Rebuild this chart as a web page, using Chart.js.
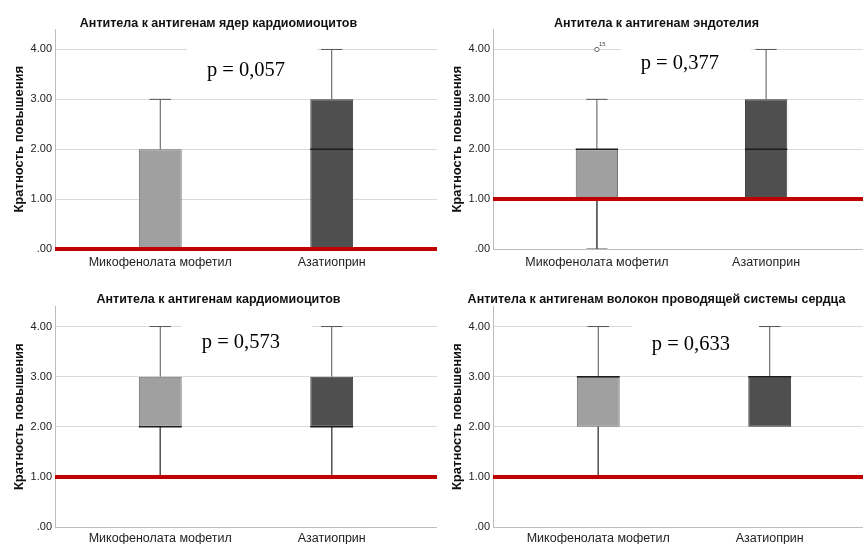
<!DOCTYPE html>
<html lang="ru">
<head>
<meta charset="UTF-8">
<title>Кратность повышения антител</title>
<style>
  html, body { margin: 0; padding: 0; background: #fff; overflow: hidden; }
  #board { position: relative; width: 863px; height: 544px; overflow: hidden; background: #fff; }
  .panel { position: absolute; }
</style>
</head>
<body>
<div id="board">
  <div class="panel" style="left:0;top:0"><canvas id="c0" width="437" height="272"></canvas></div>
  <div class="panel" style="left:438px;top:0"><canvas id="c1" width="437" height="272"></canvas></div>
  <div class="panel" style="left:0;top:280px"><canvas id="c2" width="437" height="264"></canvas></div>
  <div class="panel" style="left:438px;top:280px"><canvas id="c3" width="437" height="264"></canvas></div>
</div>

<script src="https://cdn.jsdelivr.net/npm/chart.js"></script>
<script>
    // данные
    const categories = ['Микофенолата мофетил', 'Азатиоприн'];
    const panelTitles = [
        'Антитела к антигенам ядер кардиомиоцитов',
        'Антитела к антигенам эндотелия',
        'Антитела к антигенам кардиомиоцитов',
        'Антитела к антигенам волокон проводящей системы сердца'
    ];
    const pValues = ['p = 0,057', 'p = 0,377', 'p = 0,573', 'p = 0,633'];
    const refLevels = [0, 1, 1, 1];
    const yTicks = [0, 1, 2, 3, 4];
    // по панелям: [Микофенолата мофетил, Азатиоприн]
    const whiskerLow  = [[0, 0], [0, 1], [1, 1], [1, 2]];
    const quartile1   = [[0, 0], [1, 1], [2, 2], [2, 2]];
    const medians     = [[0, 2], [2, 2], [2, 2], [3, 3]];
    const quartile3   = [[2, 3], [2, 3], [3, 3], [3, 3]];
    const whiskerHigh = [[3, 4], [3, 4], [4, 4], [4, 4]];
    const outlierValues = [[[], []], [[4], []], [[], []], [[], []]];
    const outlierCases  = [[[], []], [['15'], []], [[], []], [[], []]];

    // оформление
    const X_MIN = 0.386, X_MAX = 2.614, Y_MAX = 4.4;
    const BAR_FRAC = 0.25;            // ширина ящика в долях категории
    const HALF = BAR_FRAC / 2;        // полуширина ящика
    const CAP = HALF / 2;             // полуширина усов
    const boxFill = ['#a0a0a0', '#4f4f4f'];
    const boxBorder = ['#6c6c6c', '#3a3a3a'];
    const pPos = [[1.5, 3.58], [1.49, 3.72], [1.47, 3.68], [1.54, 3.64]];
    const isTop = [true, true, false, false];

    Chart.defaults.font.family = "'Liberation Sans', Arial, sans-serif";
    Chart.defaults.color = '#222';

    // подпись p с белой подложкой
    const pValuePlugin = {
        id: 'pValue',
        beforeDatasetsDraw(chart, args, opts) {
            const {ctx, scales: {x, y}} = chart;
            const cx = x.getPixelForValue(opts.x), cy = y.getPixelForValue(opts.y);
            ctx.save();
            ctx.font = '20.5px "Liberation Serif", "Times New Roman", serif';
            const w = ctx.measureText(opts.text).width;
            ctx.fillStyle = '#fff';
            ctx.fillRect(cx - w / 2 - 20, cy - 26, w + 52, 46);
            ctx.fillStyle = '#000';
            ctx.textAlign = 'center';
            ctx.textBaseline = 'middle';
            ctx.fillText(opts.text, cx, cy);
            ctx.restore();
        }
    };

    // номера выбросов
    const caseLabelPlugin = {
        id: 'caseLabels',
        afterDatasetsDraw(chart) {
            const ctx = chart.ctx;
            chart.data.datasets.forEach((ds, i) => {
                if (!ds.caseLabels) return;
                ctx.save();
                ctx.font = '6px "Liberation Sans", Arial, sans-serif';
                ctx.fillStyle = '#444';
                ctx.textBaseline = 'bottom';
                chart.getDatasetMeta(i).data.forEach((pt, j) => {
                    ctx.fillText(ds.caseLabels[j], pt.x + 2, pt.y - 2);
                });
                ctx.restore();
            });
        }
    };

    function buildDatasets(p) {
        const boxes = [], whiskers = [], meds = [], outs = [], outLabels = [];
        categories.forEach((c, i) => {
            const x = i + 1;
            boxes.push({x: x, y: [quartile1[p][i], quartile3[p][i]]});
            if (whiskerHigh[p][i] > quartile3[p][i]) {
                whiskers.push({x: x, y: quartile3[p][i]}, {x: x, y: whiskerHigh[p][i]}, {x: x, y: null});
                whiskers.push({x: x - CAP, y: whiskerHigh[p][i]}, {x: x + CAP, y: whiskerHigh[p][i]}, {x: x, y: null});
            }
            if (whiskerLow[p][i] < quartile1[p][i]) {
                whiskers.push({x: x, y: quartile1[p][i]}, {x: x, y: whiskerLow[p][i]}, {x: x, y: null});
                whiskers.push({x: x - CAP, y: whiskerLow[p][i]}, {x: x + CAP, y: whiskerLow[p][i]}, {x: x, y: null});
            }
            meds.push({x: x - HALF, y: medians[p][i]}, {x: x + HALF, y: medians[p][i]}, {x: x, y: null});
            outlierValues[p][i].forEach((v, k) => {
                outs.push({x: x, y: v});
                outLabels.push(outlierCases[p][i][k]);
            });
        });

        return [
            {
                type: 'line',
                data: [{x: X_MIN, y: refLevels[p]}, {x: X_MAX, y: refLevels[p]}],
                borderColor: '#c00000',
                borderWidth: 4,
                pointRadius: 0,
                clip: 3,
                order: 0
            },
            {
                type: 'line',
                data: outs,
                caseLabels: outLabels,
                showLine: false,
                pointRadius: 2.2,
                pointStyle: 'circle',
                pointBackgroundColor: '#fff',
                pointBorderColor: '#666',
                pointBorderWidth: 1,
                order: 0
            },
            {
                type: 'line',
                data: meds,
                borderColor: '#1c1c1c',
                borderWidth: 1.5,
                pointRadius: 0,
                spanGaps: false,
                order: 1
            },
            {
                type: 'line',
                data: whiskers,
                borderColor: '#555',
                borderWidth: 1,
                pointRadius: 0,
                spanGaps: false,
                order: 2
            },
            {
                type: 'bar',
                data: boxes,
                backgroundColor: boxFill,
                borderColor: boxBorder,
                borderWidth: 1,
                borderSkipped: false,
                grouped: false,
                categoryPercentage: 1,
                barPercentage: BAR_FRAC,
                order: 3
            }
        ];
    }

    const charts = [];
    for (let p = 0; p < 4; p++) {
        const top = isTop[p];
        charts.push(new Chart(document.getElementById('c' + p), {
            type: 'bar',
            data: { datasets: buildDatasets(p) },
            options: {
                responsive: false,
                animation: false,
                events: [],
                layout: { padding: 0 },
                plugins: {
                    legend: { display: false },
                    tooltip: { enabled: false },
                    title: {
                        display: true,
                        text: panelTitles[p],
                        color: '#111',
                        font: { size: 12.5, weight: 'bold', lineHeight: 1 },
                        padding: top ? {top: 17, bottom: 0} : {top: 13, bottom: 1}
                    },
                    pValue: { text: pValues[p], x: pPos[p][0], y: pPos[p][1] }
                },
                scales: {
                    x: {
                        type: 'linear',
                        min: X_MIN,
                        max: X_MAX,
                        offset: false,
                        afterBuildTicks: s => { s.ticks = categories.map((c, i) => ({value: i + 1})); },
                        afterFit: s => { s.height = top ? 23 : 17; },
                        ticks: {
                            callback: v => categories[Math.round(v) - 1],
                            autoSkip: false,
                            maxRotation: 0,
                            minRotation: 0,
                            padding: top ? 6 : 4,
                            color: '#222',
                            font: { size: 12.5 }
                        },
                        grid: { display: false, drawTicks: false },
                        border: { display: true, color: '#bdbdbd' }
                    },
                    y: {
                        min: 0,
                        max: Y_MAX,
                        afterBuildTicks: s => { s.ticks = yTicks.map(v => ({value: v})); },
                        afterFit: s => { s.width = 55; },
                        ticks: {
                            callback: v => v === 0 ? '.00' : v.toFixed(2),
                            padding: 3,
                            color: '#222',
                            font: { size: 11 }
                        },
                        grid: { color: '#dadada', drawTicks: false },
                        border: { display: true, color: '#bdbdbd' },
                        title: {
                            display: true,
                            text: 'Кратность повышения',
                            color: '#111',
                            font: { size: 13, weight: 'bold' },
                            padding: { top: 12, bottom: 0 }
                        }
                    }
                }
            },
            plugins: [pValuePlugin, caseLabelPlugin]
        }));
    }
</script>
</body>
</html>
